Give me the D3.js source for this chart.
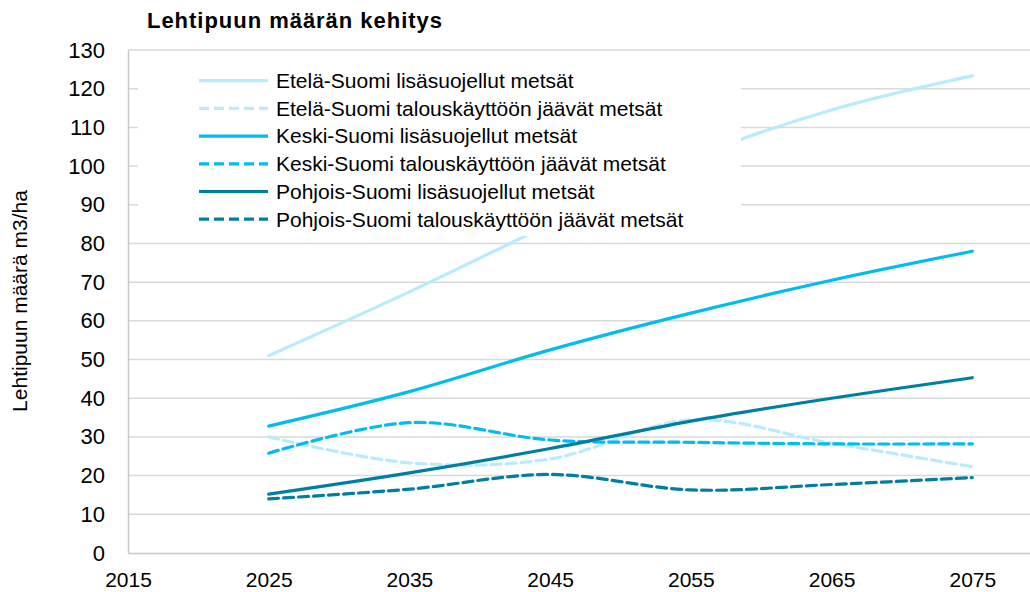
<!DOCTYPE html>
<html>
<head>
<meta charset="utf-8">
<script src="https://cdn.jsdelivr.net/npm/d3@7"></script>
<style>
  body { margin: 0; background: #fff; }
  text { font-family: "Liberation Sans", Arial, sans-serif; fill: #000; }
</style>
</head>
<body>
<svg width="1030" height="592"></svg>
<script>
var years = [2025, 2035, 2045, 2055, 2065, 2075];
var yTicks = [0, 10, 20, 30, 40, 50, 60, 70, 80, 90, 100, 110, 120, 130];
var xTicks = [2015, 2025, 2035, 2045, 2055, 2065, 2075];

var names = [
  "Etelä-Suomi lisäsuojellut metsät",
  "Etelä-Suomi talouskäyttöön jäävät metsät",
  "Keski-Suomi lisäsuojellut metsät",
  "Keski-Suomi talouskäyttöön jäävät metsät",
  "Pohjois-Suomi lisäsuojellut metsät",
  "Pohjois-Suomi talouskäyttöön jäävät metsät"
];
var etelaLisa   = [51, 67.5, 85, 102, 114.5, 123.3];
var etelaTalous = [30, 23.3, 24.3, 34.4, 28.4, 22.3];
var keskiLisa   = [32.8, 41.7, 52.5, 62, 70.5, 78];
var keskiTalous = [25.8, 33.7, 29.2, 28.6, 28.2, 28.2];
var pohjLisa    = [15.2, 20.7, 27, 34.1, 40, 45.3];
var pohjTalous  = [14, 16.5, 20.3, 16.3, 17.7, 19.5];

var colors = ["#b8ecfc", "#b8ecfc", "#00bcef", "#00bcef", "#007fa3", "#007fa3"];
var dashed = [false, true, false, true, false, true];
var seriesValues = [etelaLisa, etelaTalous, keskiLisa, keskiTalous, pohjLisa, pohjTalous];

var svg = d3.select("svg");

var xScale = d3.scaleLinear()
  .domain([2015, 2079.1])
  .range([128, 1030]);
var yScale = d3.scaleLinear()
  .domain([0, 130])
  .range([553, 50]);

// gridlines
svg.append("g")
  .selectAll("line")
  .data(yTicks.slice(1))
  .enter().append("line")
  .attr("x1", 128).attr("x2", 1030)
  .attr("y1", function(d) { return yScale(d); })
  .attr("y2", function(d) { return yScale(d); })
  .attr("stroke", "#d9d9d9")
  .attr("stroke-width", 1.5);

// axes
var yAxis = d3.axisLeft(yScale).tickValues(yTicks).tickSize(0).tickPadding(23);
svg.append("g")
  .attr("transform", "translate(128,0)")
  .call(yAxis)
  .call(function(g) {
    g.select(".domain").attr("stroke", "#c8c8c8").attr("stroke-width", 1.5);
    g.selectAll("text").attr("font-size", 22).attr("font-family", "Liberation Sans, Arial, sans-serif");
  });

var xAxis = d3.axisBottom(xScale).tickValues(xTicks).tickFormat(d3.format("d")).tickSize(0).tickPadding(19);
svg.append("g")
  .attr("transform", "translate(0,553)")
  .call(xAxis)
  .call(function(g) {
    g.select(".domain").attr("stroke", "#c8c8c8").attr("stroke-width", 1.5);
    g.selectAll("text").attr("font-size", 21).attr("font-family", "Liberation Sans, Arial, sans-serif");
  });

// lines
var lineGenerator = d3.line()
  .x(function(d, i) { return xScale(years[i]); })
  .y(function(d) { return yScale(d); })
  .curve(d3.curveCardinal.tension(0));

svg.append("g")
  .selectAll("path")
  .data(seriesValues)
  .enter().append("path")
  .attr("d", function(d) { return lineGenerator(d); })
  .attr("fill", "none")
  .attr("stroke", function(d, i) { return colors[i]; })
  .attr("stroke-width", 3.2)
  .attr("stroke-dasharray", function(d, i) { return dashed[i] ? "10,5" : null; })
  .attr("stroke-linecap", "round");

// legend (white box over the plot)
var legend = svg.append("g");
legend.append("rect")
  .attr("x", 138).attr("y", 62)
  .attr("width", 603).attr("height", 174)
  .attr("fill", "#fff");

var rows = legend.selectAll("g.row")
  .data(names)
  .enter().append("g")
  .attr("class", "row")
  .attr("transform", function(d, i) { return "translate(0," + (80.7 + i * 27.7) + ")"; });

rows.append("line")
  .attr("x1", 199).attr("x2", 268)
  .attr("stroke", function(d, i) { return colors[i]; })
  .attr("stroke-width", 3.2)
  .attr("stroke-dasharray", function(d, i) { return dashed[i] ? "10,5" : null; });

rows.append("text")
  .attr("x", 276)
  .attr("dy", "0.35em")
  .attr("font-size", 21)
  .text(function(d) { return d; });

// title
svg.append("text")
  .attr("x", 147).attr("y", 28)
  .attr("font-size", 22)
  .attr("font-weight", "bold")
  .attr("textLength", 295)
  .attr("lengthAdjust", "spacing")
  .text("Lehtipuun määrän kehitys");

// y axis title
svg.append("text")
  .attr("transform", "translate(27,301) rotate(-90)")
  .attr("text-anchor", "middle")
  .attr("font-size", 21)
  .text("Lehtipuun määrä m3/ha");
</script>
</body>
</html>
